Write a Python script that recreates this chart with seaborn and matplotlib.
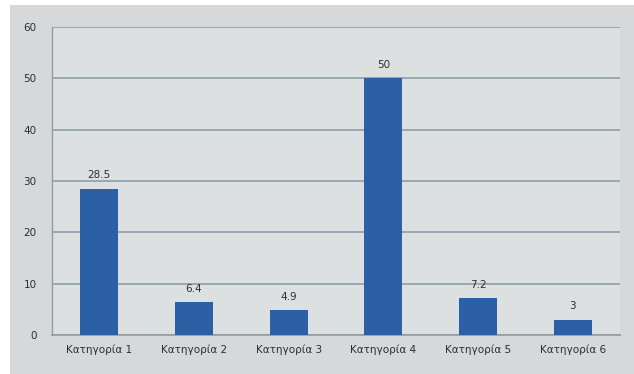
import matplotlib
matplotlib.use("Agg")
import matplotlib.pyplot as plt
from matplotlib.patches import Rectangle
import seaborn as sns
import pandas as pd

categories = ["Κατηγορία 1", "Κατηγορία 2", "Κατηγορία 3",
              "Κατηγορία 4", "Κατηγορία 5", "Κατηγορία 6"]
values = [28.5, 6.4, 4.9, 50, 7.2, 3]
value_labels = ["28.5", "6.4", "4.9", "50", "7.2", "3"]
y_ticks = [0, 10, 20, 30, 40, 50, 60]

df = pd.DataFrame({"category": categories, "value": values})

sns.set_theme(style="white")
plt.rcParams["font.family"] = ["DejaVu Sans"]

fig = plt.figure(figsize=(6.34, 3.74), dpi=100, facecolor="white")
# grey panel behind the chart
fig.patches.append(Rectangle((10 / 634, 0), 1 - 10 / 634, 1 - 5 / 374,
                             transform=fig.transFigure, facecolor="#d6d8d9",
                             edgecolor="none", zorder=-10))
ax = fig.add_axes([52 / 634, 1 - 335 / 374, 568 / 634, (335 - 27) / 374])
ax.set_zorder(1)
ax.set_facecolor("#dde0e1")

sns.barplot(data=df, x="category", y="value", color="#2b5fa6",
            saturation=1, width=0.4, linewidth=0, ax=ax, zorder=3)

ax.set_ylim(0, 60)
ax.set_yticks(y_ticks)
ax.yaxis.grid(True, color="#8d9ea8", linewidth=1.2, zorder=0)
ax.set_axisbelow(True)
for s in ["top", "right"]:
    ax.spines[s].set_visible(False)
ax.spines["left"].set_color("#8d9ea8")
ax.spines["bottom"].set_color("#8d9ea8")
ax.spines["left"].set_linewidth(1.0)
ax.spines["bottom"].set_linewidth(1.2)
ax.set_xlabel("")
ax.set_ylabel("")
ax.tick_params(axis="both", labelsize=7.5, colors="#2e2e2e", length=0, pad=11)
ax.tick_params(axis="x", pad=7)

for patch, lab in zip(ax.patches, value_labels):
    ax.annotate(lab, (patch.get_x() + patch.get_width() / 2, patch.get_height()),
                xytext=(0, 6), textcoords="offset points", ha="center",
                va="bottom", fontsize=7.5, color="#2e2e2e")

fig.savefig("out.png", dpi=100, facecolor=fig.get_facecolor())
